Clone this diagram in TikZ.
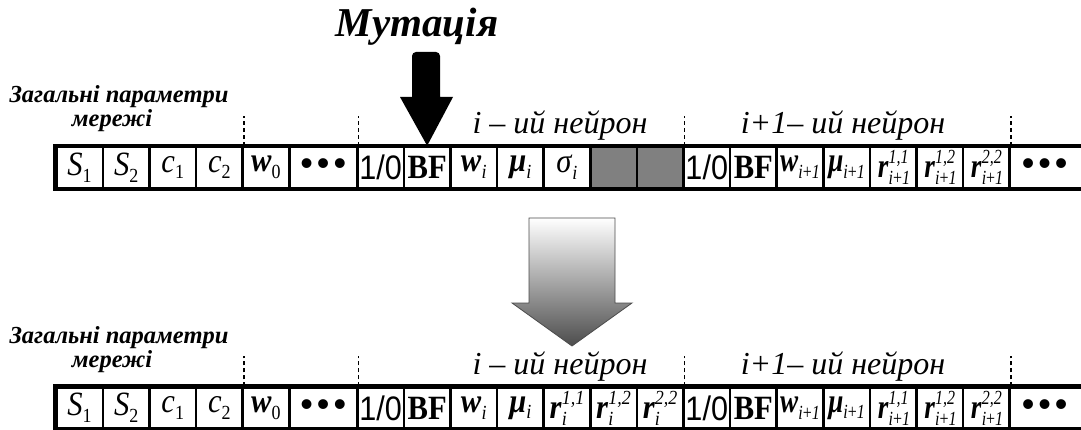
\documentclass[tikz,border=0pt]{standalone}
\usepackage{fontspec}
\setmainfont{Liberation Serif}
\setsansfont{Liberation Sans}
\usepackage{graphicx}
\newcommand\sq[1]{\scalebox{0.9}[1]{#1}}
\newcommand\lo[1]{\raisebox{-0.2em}{\fontsize{20}{20}\selectfont #1}}
\newcommand\hi[1]{\raisebox{0.42em}{\fontsize{20}{20}\selectfont #1}}
\newcommand\rr[2]{\textbf{\textit{r}}\rlap{\lo{#1}}\hi{\textit{#2}}}
\newcommand\ipo{\textit{i}+\textit{1}}
\newcommand\dotsx{{\sffamily\fontsize{36}{36}\selectfont •\hspace{4pt}•\hspace{4pt}•}}
\definecolor{cellgray}{RGB}{128,128,128}
\begin{document}
\begin{tikzpicture}[x=1pt,y=-1pt,
  cell/.style={draw, line width=2.5pt, minimum width=46.6pt, minimum height=41pt,
    inner sep=0pt, anchor=west, font=\fontsize{34}{34}\selectfont},
  wide/.style={cell, minimum width=68pt},
  wider/.style={cell, minimum width=90pt},
  shaded/.style={cell, fill=cellgray},
  sanstext/.style={font=\sffamily\fontsize{34}{34}\selectfont},
  frame/.style={draw, line width=4pt},
  sep/.style={line width=1.4pt, dash pattern=on 4pt off 3pt},
  grouplabel/.style={font=\fontsize{24.5}{24.5}\selectfont\bfseries\itshape},
  neuronlabel/.style={font=\fontsize{32}{32}\selectfont\itshape},
  titlelabel/.style={font=\fontsize{41}{41}\selectfont\bfseries\itshape}]
\useasboundingbox (0,0) rectangle (1081,430);

% ---------- top row ----------
\node[cell] (a1) at (55,167.5) {\sq{\textit{S}\lo{1}}};
\node[cell] (a2) at (101.6,167.5) {\sq{\textit{S}\lo{2}}};
\node[cell] (a3) at (148.2,167.5) {\sq{\textit{c}\lo{1}}};
\node[cell] (a4) at (194.8,167.5) {\sq{\textit{c}\lo{2}}};
\node[cell] (a5) at (241.4,167.5) {\sq{\textbf{\textit{w}}\lo{0}}};
\node[wide] (a6) at (288,167.5) {\dotsx};
\node[cell,sanstext] (a7) at (356,167.5) {\sq{1/0}};
\node[cell] (a8) at (402.6,167.5) {\sq{\textbf{BF}}};
\node[cell] (a9) at (449.2,167.5) {\sq{\textbf{\textit{w}}\lo{\textit{i}}}};
\node[cell] (a10) at (495.8,167.5) {\sq{\textbf{\textit{μ}}\lo{\textit{i}}}};
\node[cell] (a11) at (542.4,167.5) {\sq{\textit{σ}\lo{\textit{i}}}};
\node[shaded] (a12) at (589,167.5) {};
\node[shaded] (a13) at (635.6,167.5) {};
\node[cell,sanstext] (a14) at (682.2,167.5) {\sq{1/0}};
\node[cell] (a15) at (728.8,167.5) {\sq{\textbf{BF}}};
\node[cell] (a16) at (775.4,167.5) {\scalebox{0.8}[1]{\textbf{\textit{w}}\lo{\ipo}}};
\node[cell] (a17) at (822,167.5) {\scalebox{0.8}[1]{\textbf{\textit{μ}}\lo{\ipo}}};
\node[cell] (a18) at (868.6,167.5) {\scalebox{0.8}[1]{\rr{\ipo}{1,1}}};
\node[cell] (a19) at (915.2,167.5) {\scalebox{0.8}[1]{\rr{\ipo}{1,2}}};
\node[cell] (a20) at (961.8,167.5) {\scalebox{0.8}[1]{\rr{\ipo}{2,2}}};
\node[wider] (a21) at (1008.4,167.5) {\hspace*{-20pt}\dotsx};
\draw[frame] (a1.north west) rectangle (a21.south east);

% ---------- bottom row ----------
\node[cell] (b1) at (55,408) {\sq{\textit{S}\lo{1}}};
\node[cell] (b2) at (101.6,408) {\sq{\textit{S}\lo{2}}};
\node[cell] (b3) at (148.2,408) {\sq{\textit{c}\lo{1}}};
\node[cell] (b4) at (194.8,408) {\sq{\textit{c}\lo{2}}};
\node[cell] (b5) at (241.4,408) {\sq{\textbf{\textit{w}}\lo{0}}};
\node[wide] (b6) at (288,408) {\dotsx};
\node[cell,sanstext] (b7) at (356,408) {\sq{1/0}};
\node[cell] (b8) at (402.6,408) {\sq{\textbf{BF}}};
\node[cell] (b9) at (449.2,408) {\sq{\textbf{\textit{w}}\lo{\textit{i}}}};
\node[cell] (b10) at (495.8,408) {\sq{\textbf{\textit{μ}}\lo{\textit{i}}}};
\node[cell] (b11) at (542.4,408) {\sq{\rr{\textit{i}}{1,1}}};
\node[cell] (b12) at (589,408) {\sq{\rr{\textit{i}}{1,2}}};
\node[cell] (b13) at (635.6,408) {\sq{\rr{\textit{i}}{2,2}}};
\node[cell,sanstext] (b14) at (682.2,408) {\sq{1/0}};
\node[cell] (b15) at (728.8,408) {\sq{\textbf{BF}}};
\node[cell] (b16) at (775.4,408) {\scalebox{0.8}[1]{\textbf{\textit{w}}\lo{\ipo}}};
\node[cell] (b17) at (822,408) {\scalebox{0.8}[1]{\textbf{\textit{μ}}\lo{\ipo}}};
\node[cell] (b18) at (868.6,408) {\scalebox{0.8}[1]{\rr{\ipo}{1,1}}};
\node[cell] (b19) at (915.2,408) {\scalebox{0.8}[1]{\rr{\ipo}{1,2}}};
\node[cell] (b20) at (961.8,408) {\scalebox{0.8}[1]{\rr{\ipo}{2,2}}};
\node[wider] (b21) at (1008.4,408) {\hspace*{-20pt}\dotsx};
\draw[frame] (b1.north west) rectangle (b21.south east);

% ---------- separators ----------
\foreach \n in {4,6,13,20} {
  \draw[sep] (a\n.north east) -- ++(0,-30);
  \draw[sep] (b\n.north east) -- ++(0,-30);
}

% ---------- labels ----------
\node[titlelabel] (title) at (417,27) {Мутація};
\node[grouplabel] (g1) at (119,97) {Загальні параметри};
\node[grouplabel] (g2) at (112,121) {мережі};
\node[grouplabel] (g3) at (119,338) {Загальні параметри};
\node[grouplabel] (g4) at (112,362) {мережі};
\node[neuronlabel] (n1) at (560,126) {\textit{i} – ий нейрон};
\node[neuronlabel] (n2) at (843,126) {\textit{i}+\textit{1}– ий нейрон};
\node[neuronlabel] (n3) at (560,367) {\textit{i} – ий нейрон};
\node[neuronlabel] (n4) at (843,367) {\textit{i}+\textit{1}– ий нейрон};

% ---------- arrows ----------
\fill (412,97) [rounded corners=4pt] -- (412,52) -- (440,52) [sharp corners] -- (440,97)
  -- (453,97) -- (a8.north) -- (400,97) -- cycle;
\shade[top color=white, bottom color=black!70, draw=black!70, line width=0.8pt]
  (529,218) -- (615,218) -- (615,303) -- (632,303) -- (572,346) -- (512,303) -- (529,303) -- cycle;
\end{tikzpicture}
\end{document}
